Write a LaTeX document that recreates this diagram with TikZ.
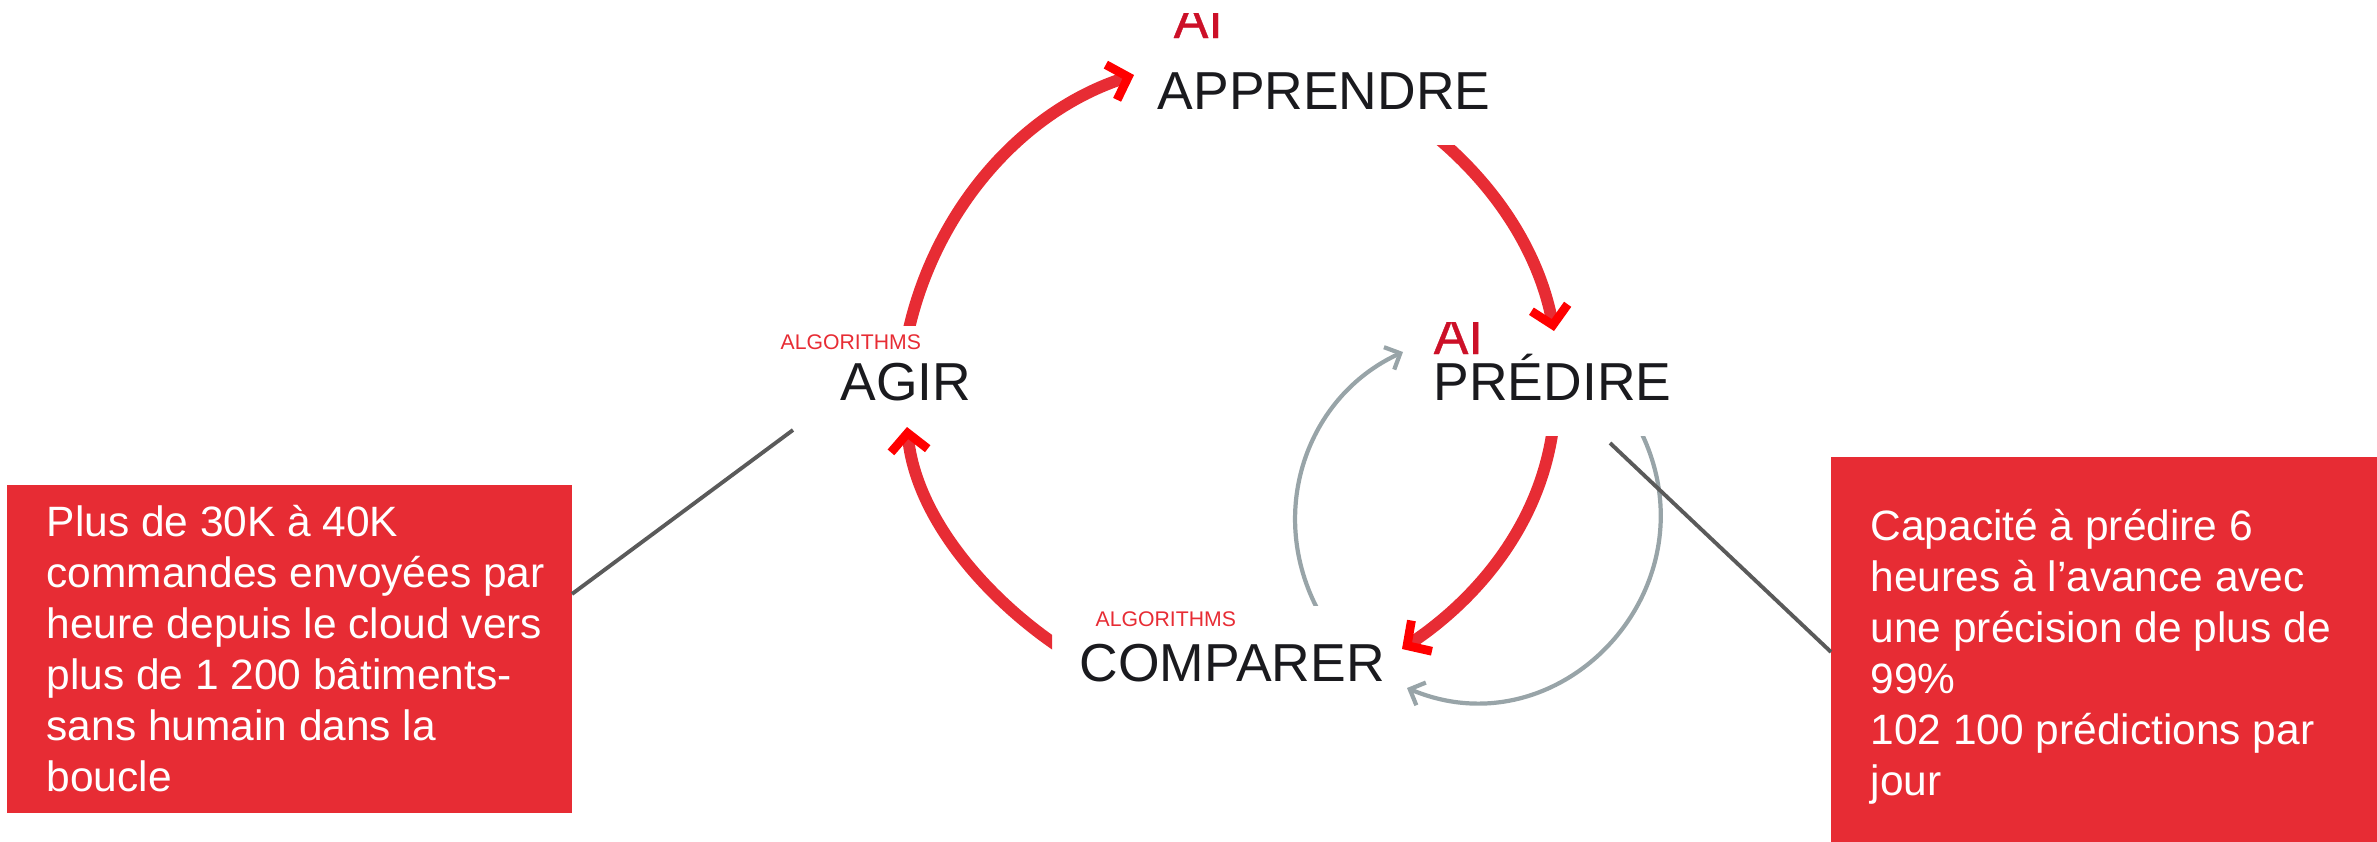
\documentclass[tikz,border=0pt]{standalone}
\usepackage{fontspec}
\setmainfont{Liberation Sans}
\newfontfamily\logofont[FakeBold=0.8]{Liberation Sans}
\usetikzlibrary{arrows.meta}
\definecolor{cyclered}{HTML}{E72C34}
\definecolor{cyclegrey}{HTML}{98A4A8}
\definecolor{stepink}{HTML}{1A1A1E}
\definecolor{leadergrey}{HTML}{5A5A5A}
\definecolor{logored}{HTML}{CC1028}
\tikzset{
    stepname/.style={anchor=base west,inner sep=0pt,text=stepink,font=\fontsize{15.2}{18}\selectfont},
    algoname/.style={anchor=base west,inner sep=0pt,text=cyclered,font=\fontsize{6.03}{7}\selectfont},
    logoname/.style={anchor=base west,inner sep=0pt,text=logored,font=\fontsize{14.8}{17}\logofont},
    redarc/.style={draw=cyclered,line width=3.4pt,-{Straight Barb[color=red,length=5pt,width=10.5pt,line width=2.5pt]}},
    greyarc/.style={draw=cyclegrey,line width=1.2pt,-{Straight Barb[length=3.5pt,width=7pt,line width=1.2pt]}},
    leader/.style={draw=leadergrey,line width=1.1pt},
    redbox/.style={fill=cyclered,inner sep=0pt},
    boxtext/.style={anchor=north west,inner sep=0pt,align=left,text=white,font=\fontsize{12.07}{14.5}\selectfont},
}
\begin{document}
\begin{tikzpicture}[x=0.01cm,y=-0.01cm]
    \useasboundingbox (0,0) rectangle (2377,842);

    \node[stepname] (apprendre) at (1157, 109) {APPRENDRE};
    \node[stepname] (predire)   at (1433, 400) {PRÉDIRE};
    \node[stepname] (comparer)  at (1079, 681) {COMPARER};
    \node[stepname] (agir)      at ( 840, 400) {AGIR};

    \node[algoname] (algoagir)     at ( 780, 349) {ALGORITHMS};
    \node[algoname] (algocomparer) at (1095, 626) {ALGORITHMS};

    \begin{scope}
        \clip (1160, 13) rectangle (1218, 45);
        \node[logoname] (logoapprendre) at (1173, 38) {AI};
    \end{scope}
    \begin{scope}
        \clip (1425, 322) rectangle (1481, 356);
        \node[logoname] (logopredire) at (1433, 354) {AI};
    \end{scope}

    \node[redbox,minimum width=5.65cm,minimum height=3.28cm] (boxagir)    at (289.5, 649) {};
    \node[redbox,minimum width=5.46cm,minimum height=3.85cm] (boxpredire) at (2104, 649.5) {};

    \node[boxtext] (textagir) at (46, 504.5) {Plus de 30K à 40K\\commandes envoyées par\\heure depuis le cloud vers\\plus de 1 200 bâtiments-\\sans humain dans la\\boucle};
    \node[boxtext] (textpredire) at (1870, 508.5) {Capacité à prédire 6\\heures à l’avance avec\\une précision de plus de\\99\%\\102 100 prédictions par\\jour};

    % cycle
    \coordinate (agirout)      at ( 908, 333);
    \coordinate (apprendrein)  at (1134,  75);
    \coordinate (apprendreout) at (1440, 140);
    \coordinate (predirein)    at (1554, 331);
    \coordinate (predireout)   at (1553, 428);
    \coordinate (comparerin)   at (1402, 649);
    \coordinate (comparerout)  at (1059, 647);
    \coordinate (agirin)       at ( 907, 427);

    \begin{scope}
        \clip (880, 50) rectangle (1160, 325);
        \draw[redarc] (agirout) .. controls (935, 210) and (1022, 111) .. (apprendrein);
    \end{scope}
    \begin{scope}
        \clip (1430, 145) rectangle (1590, 350);
        \draw[redarc] (apprendreout) .. controls (1502, 193) and (1540, 258) .. (predirein);
    \end{scope}
    \begin{scope}
        \clip (1380, 436) rectangle (1600, 670);
        \draw[redarc] (predireout) .. controls (1540, 525) and (1477, 599) .. (comparerin);
    \end{scope}
    \begin{scope}
        \clip (880, 410) rectangle (1052, 670);
        \draw[redarc] (comparerout) .. controls (985, 597) and (916, 517) .. (agirin);
    \end{scope}

    % inner loop
    \coordinate (loopout)  at (1319, 612);
    \coordinate (loopin)   at (1403, 352);
    \coordinate (loopback) at (1640, 430);
    \coordinate (loopend)  at (1407, 688);

    \begin{scope}
        \clip (1270, 330) rectangle (1430, 605);
        \draw[greyarc] (loopout) .. controls (1265, 512) and (1307, 396) .. (loopin);
    \end{scope}
    \begin{scope}
        \clip (1390, 436) rectangle (1690, 730);
        \draw[greyarc] (loopback) .. controls (1718, 586) and (1562, 753) .. (loopend);
    \end{scope}

    % leaders
    \coordinate (agirfoot)    at ( 793, 430);
    \coordinate (boxagirend)  at ( 572, 594);
    \coordinate (predirefoot) at (1610, 443);
    \coordinate (boxpredend)  at (1831, 652);

    \draw[leader] (agirfoot) -- (boxagirend);
    \draw[leader] (predirefoot) -- (boxpredend);
\end{tikzpicture}
\end{document}
